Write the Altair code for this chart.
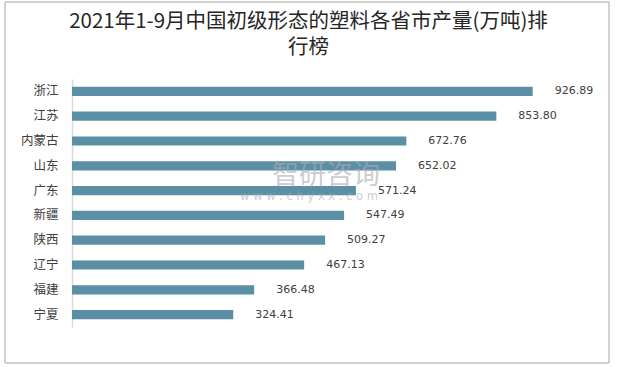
import altair as alt
import pandas as pd

provinces = ["浙江", "江苏", "内蒙古", "山东", "广东", "新疆", "陕西", "辽宁", "福建", "宁夏"]
values = [926.89, 853.80, 672.76, 652.02, 571.24, 547.49, 509.27, 467.13, 366.48, 324.41]
title_lines = ["2021年1-9月中国初级形态的塑料各省市产量(万吨)排", "行榜"]

df = pd.DataFrame({"province": provinces, "value": values})

y_enc = alt.Y("province:N", sort=provinces, title=None,
              scale=alt.Scale(paddingInner=0.63, paddingOuter=0.315),
              axis=alt.Axis(ticks=False, tickSize=0, labelPadding=14, labelFontSize=12.5,
                            labelColor="#404040", labelFont="Noto Sans CJK SC",
                            domainColor="#d9d9d9", domainWidth=1.5, grid=False))
x_enc = alt.X("value:Q", title=None, scale=alt.Scale(domain=[0, 1000], nice=False), axis=None)

bars = alt.Chart(df).mark_bar(color="#5b8fa5").encode(x=x_enc, y=y_enc)

labels = alt.Chart(df).mark_text(align="left", baseline="middle", dx=22, fontSize=11,
                                 font="DejaVu Sans", color="#404040").encode(
    x=x_enc, y=y_enc, text=alt.Text("value:Q", format=".2f"))

frame_df = pd.DataFrame({"k": [0]})
frame = alt.Chart(frame_df).mark_rect(fill=None, stroke="#a6a6a6", strokeWidth=1).encode(
    x=alt.value(-67), x2=alt.value(537), y=alt.value(-77), y2=alt.value(284))

wm1 = alt.Chart(frame_df).mark_text(text="智研咨询", fontSize=27, font="Noto Sans CJK SC",
                                    color="#a8acb4", opacity=0.6).encode(
    x=alt.value(254), y=alt.value(97))
wm2 = alt.Chart(frame_df).mark_text(text="w w w . c h y x x . c o m", fontSize=11.5,
                                    font="DejaVu Sans", color="#a8acb4", opacity=0.6).encode(
    x=alt.value(237), y=alt.value(118))

chart = alt.layer(frame, bars, labels, wm1, wm2).properties(
    width=497, height=248,
    autosize=alt.AutoSizeParams(type="none"),
    padding={"left": 72, "top": 79, "right": 49, "bottom": 40},
    title=alt.TitleParams(text=title_lines, fontSize=20.5, font="Noto Sans CJK SC",
                          fontWeight="normal", color="#262626", anchor="middle",
                          lineHeight=26, offset=-53, dx=-12, dy=4)
).configure_view(stroke=None)

chart.save("out.html", embed_options={"renderer": "svg", "actions": False})
